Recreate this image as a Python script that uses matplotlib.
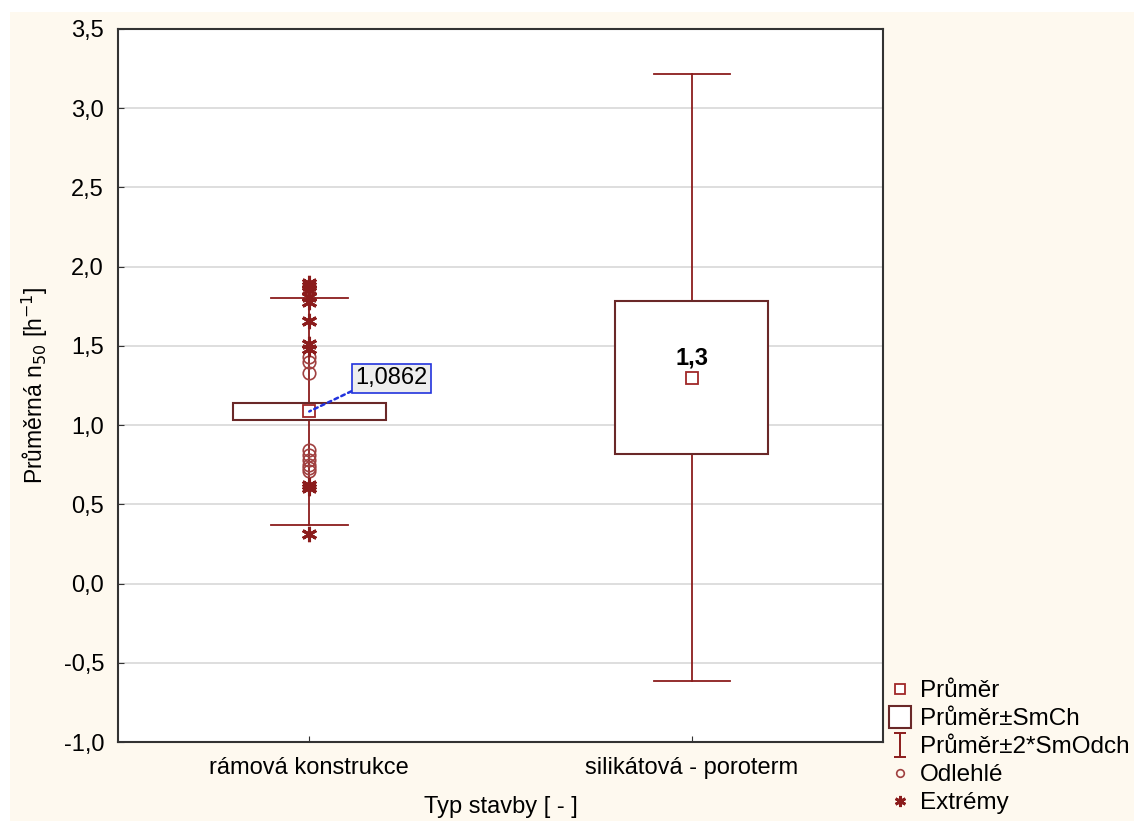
import numpy as np
import matplotlib.pyplot as plt
from matplotlib.lines import Line2D
from matplotlib.patches import Rectangle
from matplotlib.path import Path

plt.rcParams['font.family'] = ['Liberation Sans', 'DejaVu Sans']

groups = ['rámová konstrukce', 'silikátová - poroterm']
means = [1.0862, 1.30]
se = [0.0535, 0.482]
sd = [0.3575, 0.957]
outliers_1 = [1.43, 1.40, 1.33, 0.84, 0.81, 0.78, 0.75, 0.73, 0.71]
extremes_1 = [1.90, 1.88, 1.85, 1.81, 1.78, 1.66, 1.51, 1.48, 0.62, 0.60, 0.31]
yticks = [-1.0, -0.5, 0.0, 0.5, 1.0, 1.5, 2.0, 2.5, 3.0, 3.5]

line_c = '#8b1c1c'
box_c = '#6a2828'
mark_c = '#a02828'

fig = plt.figure(figsize=(11.34, 8.21), dpi=100)
fig.patch.set_facecolor('white')
fig.patches.append(Rectangle((10 / 1134, 0), 1, 1 - 12 / 821, transform=fig.transFigure,
                             facecolor='#fef9ef', edgecolor='none', zorder=-10))
ax = fig.add_axes([118 / 1134, 79 / 821, 765 / 1134, 713 / 821])
ax.set_facecolor('white')

x = np.arange(1, len(groups) + 1)
for i, xi in enumerate(x):
    m, s, d = means[i], se[i], sd[i]
    ax.plot([xi, xi], [m - 2 * d, m + 2 * d], color=line_c, lw=1.3, zorder=2)
    for v in (m - 2 * d, m + 2 * d):
        ax.plot([xi - 0.1, xi + 0.1], [v, v], color=line_c, lw=1.3, zorder=2)
    ax.add_patch(Rectangle((xi - 0.2, m - s), 0.4, 2 * s, facecolor='white',
                           edgecolor=box_c, lw=1.5, zorder=3))
    ax.plot(xi, m, marker='s', ms=8, mfc='white', mec=mark_c, mew=1.3, ls='', zorder=5)

ax.plot([x[0]] * len(outliers_1), outliers_1, marker='o', ms=9, mfc='none', mec='#a04040',
        mew=1.2, ls='', zorder=4)
ax.plot([x[0]] * len(extremes_1), extremes_1, marker=(6, 2, 0), ms=11, mec=line_c,
        mew=2.2, ls='', zorder=4)

ax.text(x[1], means[1] + 0.05, '1,3', ha='center', va='bottom', fontsize=17,
        fontweight='bold', zorder=6)
ax.annotate('1,0862', xy=(x[0], means[0]), xytext=(1.215, 1.295), ha='center', va='center',
            fontsize=17, zorder=6,
            bbox=dict(boxstyle='square,pad=0.14', facecolor='#eeeeee', edgecolor='#2233dd', lw=1.2),
            arrowprops=dict(arrowstyle='-', color='#2233dd', ls=(0, (1.5, 1.5)), lw=1.8,
                            relpos=(0, 0), shrinkA=0, shrinkB=0))

ax.set_xlim(0.5, 2.5)
ax.set_ylim(-1.0, 3.5)
ax.set_yticks(yticks)
ax.set_yticklabels([('%.1f' % v).replace('.', ',') for v in yticks], fontsize=17)
ax.set_xticks(x)
ax.set_xticklabels(groups, fontsize=17)
ax.tick_params(direction='in', length=4, color='#333333')
ax.tick_params(axis='y', pad=10)
ax.tick_params(axis='x', pad=11)
ax.yaxis.grid(True, color='#d8d8d8', lw=1.2)
ax.set_axisbelow(True)
for sp in ax.spines.values():
    sp.set_color('#333333')
    sp.set_linewidth(1.5)

ax.set_ylabel('Průměrná n$_{50}$ [h$^{-1}$]', fontsize=16.5, labelpad=10)
ax.set_xlabel('Typ stavby [ - ]', fontsize=17, labelpad=12)

ibar = Path([(-0.5, 1), (0.5, 1), (0, 1), (0, -1), (-0.5, -1), (0.5, -1)],
            [Path.MOVETO, Path.LINETO, Path.MOVETO, Path.LINETO, Path.MOVETO, Path.LINETO])
handles = [
    Line2D([], [], marker='s', ms=6.5, mfc='white', mec=mark_c, mew=1.3, ls=''),
    Line2D([], [], marker='s', ms=16, mfc='white', mec=box_c, mew=1.5, ls=''),
    Line2D([], [], marker=ibar, ms=17, mec=line_c, mew=1.4, ls=''),
    Line2D([], [], marker='o', ms=5.5, mfc='none', mec='#a04040', mew=1.2, ls=''),
    Line2D([], [], marker=(6, 2, 0), ms=8, mec=line_c, mew=2.0, ls=''),
]
labels = ['Průměr', 'Průměr±SmCh', 'Průměr±2*SmOdch', 'Odlehlé', 'Extrémy']
fig.legend(handles, labels, loc='upper left', bbox_to_anchor=(888 / 1134, 1 - 680 / 821),
           frameon=False, fontsize=17.5, handlelength=1.0, handletextpad=0.33,
           labelspacing=0.25, borderpad=0, borderaxespad=0)

fig.savefig('out.png', dpi=100)
